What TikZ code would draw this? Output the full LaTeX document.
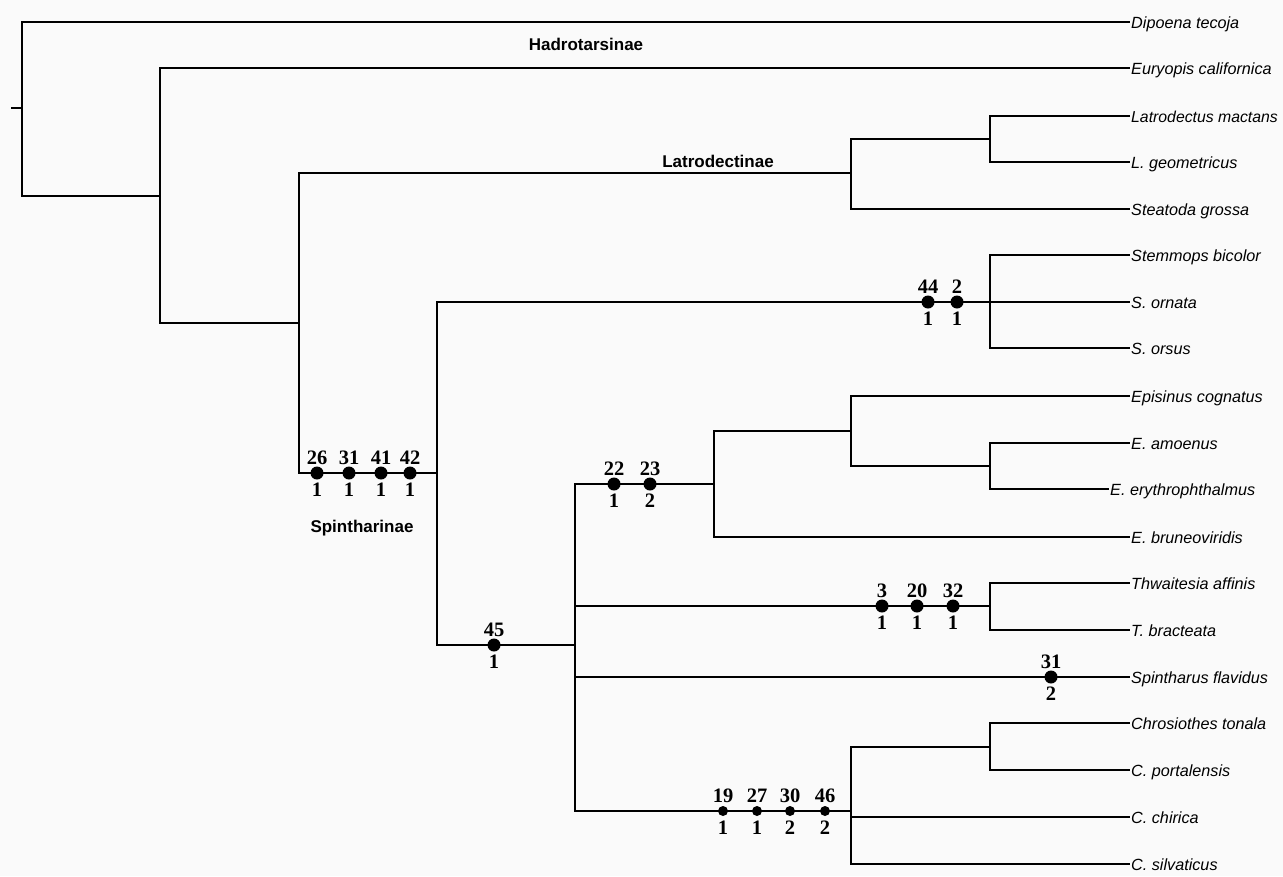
\documentclass[tikz,border=0pt]{standalone}
\usepackage{fontspec}
\setmainfont{Liberation Serif}
\newfontfamily\arialfont{Liberation Sans}
\definecolor{bgcol}{RGB}{250,250,250}
\tikzset{
  edge/.style={line width=2.6pt, black, line cap=rect},
  leaf/.style={anchor=west, inner sep=2pt, text height=12pt, text depth=0pt,
    font=\arialfont\itshape\fontsize{16.2}{16.2}\selectfont},
  clade/.style={inner sep=0pt, font=\arialfont\bfseries\fontsize{17}{17}\selectfont},
  dot/.style={circle, fill=black, inner sep=0pt, minimum size=13pt},
  smalldot/.style={circle, fill=black, inner sep=0pt, minimum size=10pt},
  num/.style={inner sep=0pt, font=\bfseries\fontsize{20.5}{20.5}\selectfont}
}
\newcommand\cmark[6]{%
  \node[#6] (#1) at (#2,#3) {};
  \node[num] at ([yshift=15pt]#1.center) {#4};
  \node[num] at ([yshift=-16.5pt]#1.center) {#5};}
\begin{document}
\begin{tikzpicture}[x=1pt,y=-1pt]
\fill[bgcol] (0,0) rectangle (1283,876);
\useasboundingbox (0,0) rectangle (1283,876);

% leaves
\node[leaf] (dip) at (1129,22) {Dipoena tecoja};
\node[leaf] (eur) at (1129,68) {Euryopis californica};
\node[leaf, font=\arialfont\itshape\fontsize{15.8}{15.8}\selectfont] (lmac) at (1129,116) {Latrodectus mactans};
\node[leaf] (lgeo) at (1129,162) {L. geometricus};
\node[leaf] (stea) at (1129,209) {Steatoda grossa};
\node[leaf] (stem) at (1129,255) {Stemmops bicolor};
\node[leaf] (sorn) at (1129,302) {S. ornata};
\node[leaf] (sors) at (1129,348) {S. orsus};
\node[leaf] (epis) at (1129,396) {Episinus cognatus};
\node[leaf] (eamo) at (1129,443) {E. amoenus};
\node[leaf] (eery) at (1108,489) {E. erythrophthalmus};
\node[leaf] (ebru) at (1129,537) {E. bruneoviridis};
\node[leaf] (thaf) at (1129,583) {Thwaitesia affinis};
\node[leaf] (tbra) at (1129,630) {T. bracteata};
\node[leaf] (spfl) at (1129,677) {Spintharus flavidus};
\node[leaf] (chto) at (1129,723) {Chrosiothes tonala};
\node[leaf] (cpor) at (1129,770) {C. portalensis};
\node[leaf] (cchi) at (1129,817) {C. chirica};
\node[leaf] (csil) at (1129,864) {C. silvaticus};

% internal nodes
\coordinate (stub) at (12,108);
\coordinate (r) at (22,108);
\coordinate (n1) at (160,196);
\coordinate (n2) at (299,323);
\coordinate (L) at (851,173);
\coordinate (L1) at (990,139);
\coordinate (S) at (437,473);
\coordinate (St) at (990,302);
\coordinate (A) at (575,645);
\coordinate (E) at (714,484);
\coordinate (E1) at (851,431);
\coordinate (E2) at (990,466);
\coordinate (T) at (990,606);
\coordinate (C) at (851,811);
\coordinate (Cin) at (851,817);
\coordinate (C1) at (990,747);

% edges
\draw[edge] (stub) -- (r);
\draw[edge] (r) |- (dip.west);
\draw[edge] (r) |- (n1);
\draw[edge] (n1) |- (eur.west);
\draw[edge] (n1) |- (n2);
\draw[edge] (n2) |- (L);
\draw[edge] (n2) |- (S);
\draw[edge] (L) |- (L1);
\draw[edge] (L) |- (stea.west);
\draw[edge] (L1) |- (lmac.west);
\draw[edge] (L1) |- (lgeo.west);
\draw[edge] (S) |- (St);
\draw[edge] (S) |- (A);
\draw[edge] (St) |- (stem.west);
\draw[edge] (St) -- (sorn.west);
\draw[edge] (St) |- (sors.west);
\draw[edge] (A) |- (E);
\draw[edge] (A) |- (T);
\draw[edge] (A) |- (spfl.west);
\draw[edge] (A) |- (C);
\draw[edge] (E) |- (E1);
\draw[edge] (E) |- (ebru.west);
\draw[edge] (E1) |- (epis.west);
\draw[edge] (E1) |- (E2);
\draw[edge] (E2) |- (eamo.west);
\draw[edge] (E2) |- (eery.west);
\draw[edge] (T) |- (thaf.west);
\draw[edge] (T) |- (tbra.west);
\draw[edge] (C) |- (C1);
\draw[edge] (Cin) -- (cchi.west);
\draw[edge] (C) |- (csil.west);
\draw[edge] (C1) |- (chto.west);
\draw[edge] (C1) |- (cpor.west);

% character marks
\cmark{m26}{317}{473}{26}{1}{dot}
\cmark{m31a}{349}{473}{31}{1}{dot}
\cmark{m41}{381}{473}{41}{1}{dot}
\cmark{m42}{410}{473}{42}{1}{dot}
\cmark{m44}{928}{302}{44}{1}{dot}
\cmark{m2}{957}{302}{2}{1}{dot}
\cmark{m22}{614}{484}{22}{1}{dot}
\cmark{m23}{650}{484}{23}{2}{dot}
\cmark{m45}{494}{645}{45}{1}{dot}
\cmark{m3}{882}{606}{3}{1}{dot}
\cmark{m20}{917}{606}{20}{1}{dot}
\cmark{m32}{953}{606}{32}{1}{dot}
\cmark{m31b}{1051}{677}{31}{2}{dot}
\cmark{m19}{723}{811}{19}{1}{smalldot}
\cmark{m27}{757}{811}{27}{1}{smalldot}
\cmark{m30}{790}{811}{30}{2}{smalldot}
\cmark{m46}{825}{811}{46}{2}{smalldot}

% clade labels
\node[clade] (hadro) at (586,44) {Hadrotarsinae};
\node[clade] (latro) at (718,161) {Latrodectinae};
\node[clade] (spint) at (362,528) {Spintharinae};
\end{tikzpicture}
\end{document}
